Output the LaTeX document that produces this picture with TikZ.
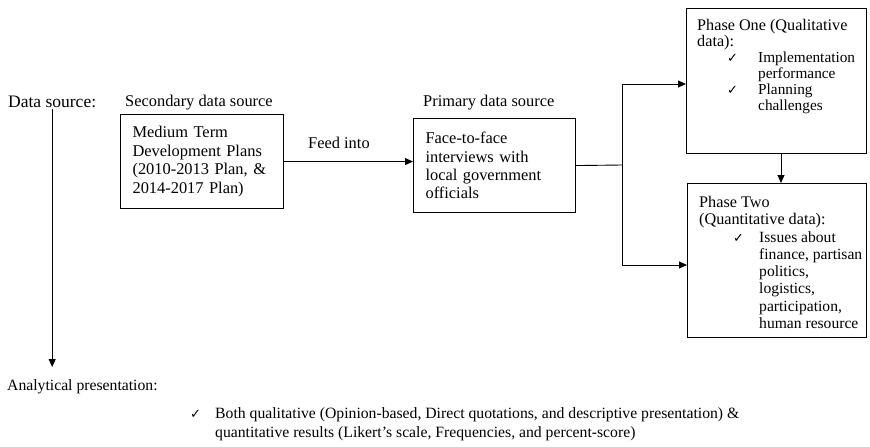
\documentclass[tikz,border=0pt]{standalone}
\usepackage{fontspec}
\setmainfont{Liberation Serif}
\newfontfamily\chkfont{DejaVu Sans}
\usetikzlibrary{arrows.meta,calc}
\newcommand{\chk}{{\chkfont\fontsize{13}{13}\selectfont ✓}}
\begin{document}
\begin{tikzpicture}[x=1pt,y=-1pt,
  lbl/.style={anchor=base west, inner sep=0pt, font=\fontsize{16.4}{18}\selectfont},
  box/.style={draw, line width=1.1pt, anchor=north west, align=left, inner xsep=12pt, font=\fontsize{16.4}{18.4}\selectfont},
  phasebox/.style={draw, line width=1.1pt, anchor=north west, inner sep=0pt},
  ptext/.style={anchor=north west, inner sep=0pt, align=left},
  arr/.style={line width=0.9pt, -{Triangle[length=8pt,width=7pt]}},
  ln/.style={line width=0.9pt}]
\useasboundingbox (0,0) rectangle (870,447);

% labels
\node[lbl, font=\fontsize{17.5}{19}\selectfont] (ds) at (8,107) {Data source:};
\node[lbl] (sds) at (125,106) {Secondary data source};
\node[lbl] (pds) at (423,106) {Primary data source};

% boxes
\node[box, minimum width=163pt, minimum height=94pt, text width=139pt] (b1) at (120,114)
  {Medium Term\\Development Plans\\(2010-2013 Plan, \&\\2014-2017 Plan)};
\node[box, minimum width=162pt, minimum height=94pt, text width=138pt] (b2) at (413,118)
  {Face-to-face\\interviews with\\local government\\officials};

\node[phasebox, minimum width=180pt, minimum height=145pt] (p1) at (686,8) {};
\node[phasebox, minimum width=179pt, minimum height=154pt] (p2) at (687,183) {};

\node[ptext, font=\fontsize{16.2}{16}\selectfont] (t1) at (697,19)
  {Phase One (Qualitative\\
   data):\\
   {\fontsize{15.3}{16}\selectfont\hspace*{30pt}\makebox[31pt][l]{\chk}Implementation}\\
   {\fontsize{15.3}{16}\selectfont\hspace*{61pt}performance}\\
   {\fontsize{15.3}{16}\selectfont\hspace*{30pt}\makebox[31pt][l]{\chk}Planning}\\
   {\fontsize{15.3}{16}\selectfont\hspace*{61pt}challenges}};

\node[ptext, font=\fontsize{15.6}{17.3}\selectfont] (t2) at (699,196)
  {{\fontsize{16.2}{17.3}\selectfont Phase Two}\\
   {\fontsize{16.2}{17.3}\selectfont (Quantitative data):}\\
   \hspace*{34pt}\makebox[26pt][l]{\chk}Issues about\\
   \hspace*{60pt}finance, partisan\\
   \hspace*{60pt}politics,\\
   \hspace*{60pt}logistics,\\
   \hspace*{60pt}participation,\\
   \hspace*{60pt}human resource};

% feed into
\node[lbl] (fi) at (308,148) {Feed into};
\draw[arr] (b1.east) -- (b1.east -| b2.west);

% branch to phases
\coordinate (j) at (622,165);
\coordinate (a1) at (0,84);
\coordinate (a2) at (0,265);
\draw[ln] (b2.east) -- (j);
\draw[arr] (j) |- (p1.west |- a1);
\draw[arr] (j) |- (p2.west |- a2);

% phase one to phase two
\coordinate (v) at (781,0);
\draw[arr] (v |- p1.south) -- (v |- p2.north);

% analytical presentation
\node[lbl, font=\fontsize{15.7}{17}\selectfont] (ap) at (7,390) {Analytical presentation:};
\coordinate (dend) at (0,367);
\draw[arr] ([yshift=-2pt]ds.south) -- (ds.south |- dend);

\node[lbl] (c3) at (190,418) {\chk};
\node[ptext, font=\fontsize{15.7}{19}\selectfont] (bt) at (215,407)
  {Both qualitative (Opinion-based, Direct quotations, and descriptive presentation) \&\\
   quantitative results (Likert’s scale, Frequencies, and percent-score)};
\end{tikzpicture}
\end{document}
